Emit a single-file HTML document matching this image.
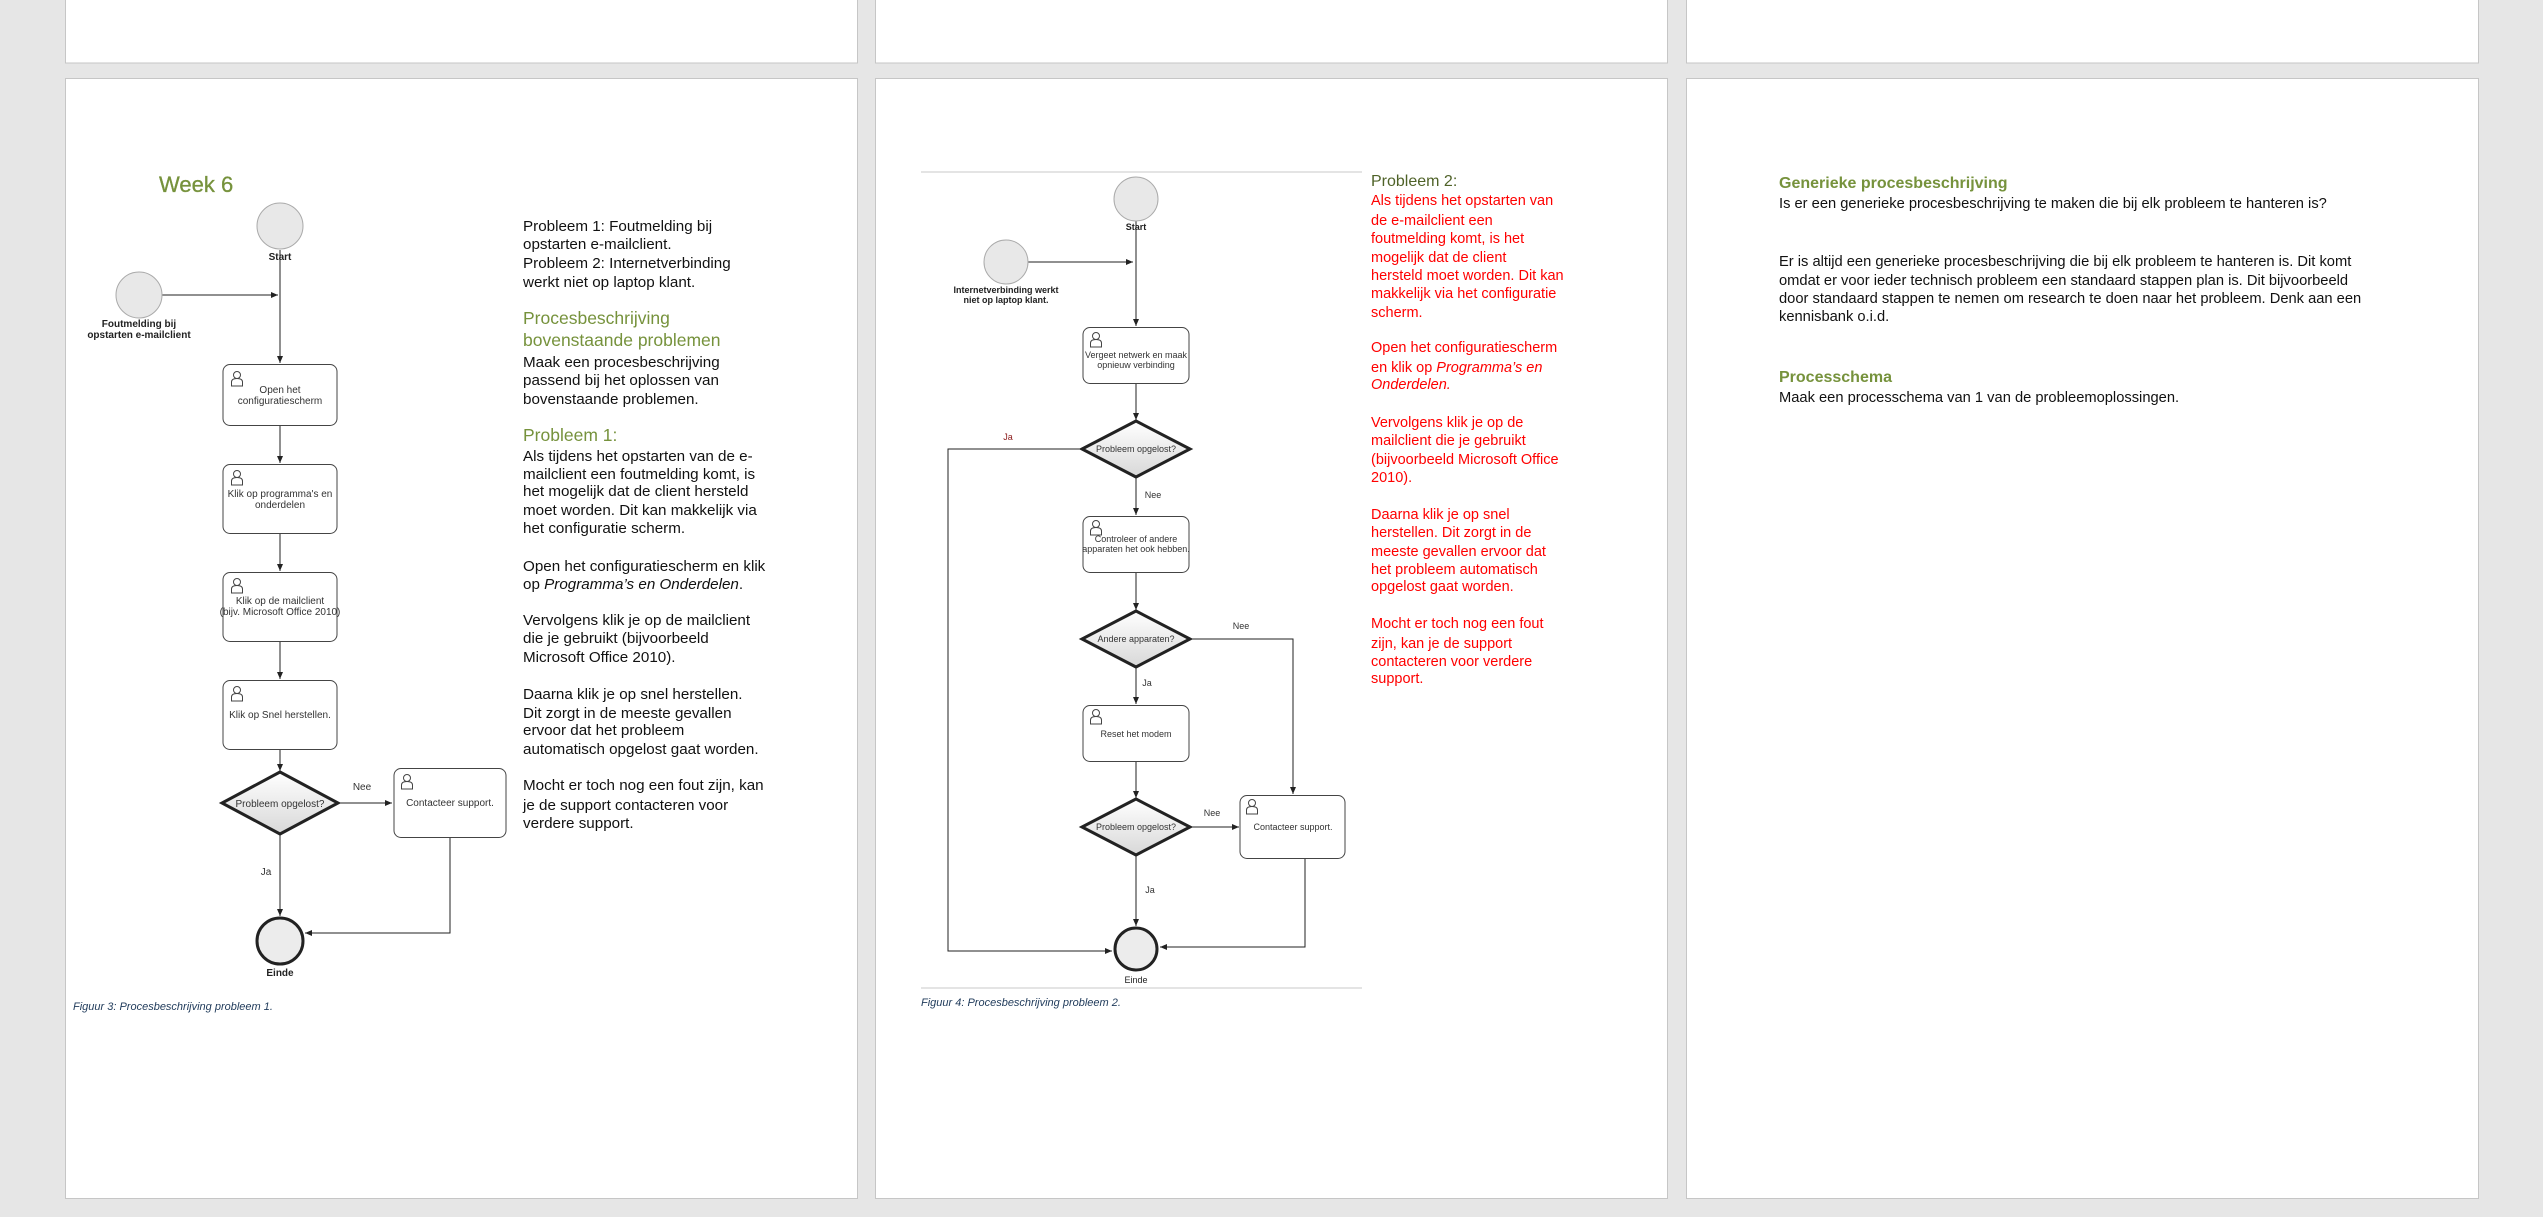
<!DOCTYPE html>
<html><head><meta charset="utf-8"><style>
html,body{margin:0;padding:0;background:#e6e6e6;width:2543px;height:1217px;overflow:hidden}
svg{display:block}
</style></head><body>
<svg width="2543" height="1217" viewBox="0 0 2543 1217" xmlns="http://www.w3.org/2000/svg" font-family="Liberation Sans, sans-serif">
<defs>
<linearGradient id="dg" x1="0" y1="0" x2="0" y2="1"><stop offset="0" stop-color="#ffffff"/><stop offset="1" stop-color="#d8d8d8"/></linearGradient>
<marker id="ar" markerWidth="8" markerHeight="8" refX="7" refY="4" orient="auto" markerUnits="userSpaceOnUse"><path d="M0,1 L7,4 L0,7 z" fill="#222"/></marker>
<g id="person"><circle cx="0" cy="-4" r="3.5" fill="none" stroke="#444" stroke-width="1"/><path d="M-5.5,7 V3 Q-5.5,-0.5 0,-0.5 Q5.5,-0.5 5.5,3 V7 Z" fill="none" stroke="#444" stroke-width="1"/></g>
</defs>
<rect width="2543" height="1217" fill="#e6e6e6"/>
<rect x="65.5" y="-2" width="792" height="65" fill="#fff" stroke="#c6c6c6"/>
<rect x="875.5" y="-2" width="792" height="65" fill="#fff" stroke="#c6c6c6"/>
<rect x="1686.5" y="-2" width="792" height="65" fill="#fff" stroke="#c6c6c6"/>
<rect x="65.5" y="78.5" width="792" height="1120" fill="#fff" stroke="#c6c6c6"/>
<rect x="875.5" y="78.5" width="792" height="1120" fill="#fff" stroke="#c6c6c6"/>
<rect x="1686.5" y="78.5" width="792" height="1120" fill="#fff" stroke="#c6c6c6"/>

<!-- ===== PAGE 1 ===== -->
<text x="159" y="192" font-size="22" fill="#76923c" font-weight="500" stroke="#76923c" stroke-width="0.3">Week 6</text>
<g stroke="#222" stroke-width="1" fill="none">
<line x1="280" y1="250" x2="280" y2="363" marker-end="url(#ar)"/>
<line x1="162" y1="295" x2="278" y2="295" marker-end="url(#ar)"/>
<line x1="280" y1="426" x2="280" y2="463" marker-end="url(#ar)"/>
<line x1="280" y1="534" x2="280" y2="571" marker-end="url(#ar)"/>
<line x1="280" y1="642" x2="280" y2="679" marker-end="url(#ar)"/>
<line x1="280" y1="749" x2="280" y2="771" marker-end="url(#ar)"/>
<line x1="339" y1="803" x2="392" y2="803" marker-end="url(#ar)"/>
<line x1="280" y1="834" x2="280" y2="916" marker-end="url(#ar)"/>
<polyline points="450,837 450,933 305,933" marker-end="url(#ar)"/>
</g>
<circle cx="280" cy="226" r="23" fill="#e8e8e8" stroke="#aaa"/>
<circle cx="139" cy="295" r="23" fill="#e8e8e8" stroke="#aaa"/>
<text x="280" y="260" font-size="10" font-weight="bold" text-anchor="middle" fill="#222">Start</text>
<text x="139" y="327" font-size="10" font-weight="bold" text-anchor="middle" fill="#222">Foutmelding bij</text>
<text x="139" y="338" font-size="10" font-weight="bold" text-anchor="middle" fill="#222">opstarten e-mailclient</text>
<g fill="#fff" stroke="#444" stroke-width="1">
<rect x="223" y="364.5" width="114" height="61" rx="7"/>
<rect x="223" y="464.5" width="114" height="69" rx="7"/>
<rect x="223" y="572.5" width="114" height="69" rx="7"/>
<rect x="223" y="680.5" width="114" height="69" rx="7"/>
<rect x="394" y="768.5" width="112" height="69" rx="7"/>
</g>
<use href="#person" x="237" y="379"/><use href="#person" x="237" y="478"/><use href="#person" x="237" y="586"/><use href="#person" x="237" y="694"/><use href="#person" x="407" y="782"/>
<g font-size="10" fill="#333" text-anchor="middle">
<text x="280" y="393">Open het</text><text x="280" y="404">configuratiescherm</text>
<text x="280" y="497">Klik op programma's en</text><text x="280" y="508">onderdelen</text>
<text x="280" y="604">Klik op de mailclient</text><text x="280" y="615">(bijv. Microsoft Office 2010)</text>
<text x="280" y="718">Klik op Snel herstellen.</text>
<text x="450" y="806">Contacteer support.</text>
<text x="362" y="790">Nee</text>
<text x="266" y="875">Ja</text>
</g>
<polygon points="280,772 338,803 280,834 222,803" fill="url(#dg)" stroke="#222" stroke-width="3"/>
<text x="280" y="807" font-size="10" fill="#333" text-anchor="middle">Probleem opgelost?</text>
<circle cx="280" cy="941" r="23" fill="#ececec" stroke="#222" stroke-width="3"/>
<text x="280" y="976" font-size="10" font-weight="bold" text-anchor="middle" fill="#222">Einde</text>

<g font-size="15.2" fill="#111">
<text x="523" y="231">Probleem 1: Foutmelding bij</text>
<text x="523" y="249">opstarten e-mailclient.</text>
<text x="523" y="268">Probleem 2: Internetverbinding</text>
<text x="523" y="287">werkt niet op laptop klant.</text>
<text x="523" y="367">Maak een procesbeschrijving</text>
<text x="523" y="385">passend bij het oplossen van</text>
<text x="523" y="404">bovenstaande problemen.</text>
<text x="523" y="461">Als tijdens het opstarten van de e-</text>
<text x="523" y="479">mailclient een foutmelding komt, is</text>
<text x="523" y="496">het mogelijk dat de client hersteld</text>
<text x="523" y="515">moet worden. Dit kan makkelijk via</text>
<text x="523" y="533">het configuratie scherm.</text>
<text x="523" y="571">Open het configuratiescherm en klik</text>
<text x="523" y="589">op <tspan font-style="italic">Programma’s en Onderdelen</tspan>.</text>
<text x="523" y="625">Vervolgens klik je op de mailclient</text>
<text x="523" y="643">die je gebruikt (bijvoorbeeld</text>
<text x="523" y="662">Microsoft Office 2010).</text>
<text x="523" y="699">Daarna klik je op snel herstellen.</text>
<text x="523" y="718">Dit zorgt in de meeste gevallen</text>
<text x="523" y="735">ervoor dat het probleem</text>
<text x="523" y="754">automatisch opgelost gaat worden.</text>
<text x="523" y="790">Mocht er toch nog een fout zijn, kan</text>
<text x="523" y="810">je de support contacteren voor</text>
<text x="523" y="828">verdere support.</text>
</g>
<g font-size="17.5" fill="#76923c">
<text x="523" y="324">Procesbeschrijving</text>
<text x="523" y="346">bovenstaande problemen</text>
<text x="523" y="441">Probleem 1:</text>
</g>
<text x="73" y="1010" font-size="11" font-style="italic" fill="#1f3a5a">Figuur 3: Procesbeschrijving probleem 1.</text>

<!-- ===== PAGE 2 ===== -->
<line x1="921" y1="172" x2="1362" y2="172" stroke="#e4e4e4" stroke-width="2"/>
<line x1="921" y1="988" x2="1362" y2="988" stroke="#e4e4e4" stroke-width="2"/>
<g stroke="#222" stroke-width="1" fill="none">
<line x1="1136" y1="221" x2="1136" y2="326" marker-end="url(#ar)"/>
<line x1="1028" y1="262" x2="1133" y2="262" marker-end="url(#ar)"/>
<line x1="1136" y1="384" x2="1136" y2="420" marker-end="url(#ar)"/>
<polyline points="1082,449 948,449 948,951 1112,951" marker-end="url(#ar)"/>
<line x1="1136" y1="477" x2="1136" y2="515" marker-end="url(#ar)"/>
<line x1="1136" y1="572" x2="1136" y2="610" marker-end="url(#ar)"/>
<polyline points="1190,639 1293,639 1293,794" marker-end="url(#ar)"/>
<line x1="1136" y1="667" x2="1136" y2="704" marker-end="url(#ar)"/>
<line x1="1136" y1="762" x2="1136" y2="798" marker-end="url(#ar)"/>
<line x1="1190" y1="827" x2="1239" y2="827" marker-end="url(#ar)"/>
<line x1="1136" y1="856" x2="1136" y2="926" marker-end="url(#ar)"/>
<polyline points="1305,859 1305,947 1160,947" marker-end="url(#ar)"/>
</g>
<circle cx="1136" cy="199" r="22" fill="#e8e8e8" stroke="#aaa"/>
<circle cx="1006" cy="262" r="22" fill="#e8e8e8" stroke="#aaa"/>
<text x="1136" y="230" font-size="9" font-weight="bold" text-anchor="middle" fill="#222">Start</text>
<text x="1006" y="293" font-size="9" font-weight="bold" text-anchor="middle" fill="#222">Internetverbinding werkt</text>
<text x="1006" y="303" font-size="9" font-weight="bold" text-anchor="middle" fill="#222">niet op laptop klant.</text>
<g fill="#fff" stroke="#444" stroke-width="1">
<rect x="1083" y="327.5" width="106" height="56" rx="7"/>
<rect x="1083" y="516.5" width="106" height="56" rx="7"/>
<rect x="1083" y="705.5" width="106" height="56" rx="7"/>
<rect x="1240" y="795.5" width="105" height="63" rx="7"/>
</g>
<use href="#person" x="1096" y="340"/><use href="#person" x="1096" y="528"/><use href="#person" x="1096" y="717"/><use href="#person" x="1252" y="807"/>
<g fill="url(#dg)" stroke="#222" stroke-width="3">
<polygon points="1136,421 1190,449 1136,477 1082,449"/>
<polygon points="1136,611 1190,639 1136,667 1082,639"/>
<polygon points="1136,799 1190,827 1136,855 1082,827"/>
</g>
<g font-size="9" fill="#333" text-anchor="middle">
<text x="1136" y="358">Vergeet netwerk en maak</text><text x="1136" y="368">opnieuw verbinding</text>
<text x="1136" y="452">Probleem opgelost?</text>
<text x="1136" y="542">Controleer of andere</text><text x="1136" y="552">apparaten het ook hebben.</text>
<text x="1136" y="642">Andere apparaten?</text>
<text x="1136" y="737">Reset het modem</text>
<text x="1136" y="830">Probleem opgelost?</text>
<text x="1293" y="830">Contacteer support.</text>
<text x="1008" y="440" fill="#8b1a1a">Ja</text>
<text x="1153" y="498">Nee</text>
<text x="1241" y="629">Nee</text>
<text x="1147" y="686">Ja</text>
<text x="1212" y="816">Nee</text>
<text x="1150" y="893">Ja</text>
</g>
<circle cx="1136" cy="949" r="21" fill="#ececec" stroke="#222" stroke-width="3"/>
<text x="1136" y="983" font-size="9" text-anchor="middle" fill="#222">Einde</text>
<text x="921" y="1006" font-size="11" font-style="italic" fill="#1f3a5a">Figuur 4: Procesbeschrijving probleem 2.</text>

<text x="1371" y="186" font-size="16" fill="#4f6228">Probleem 2:</text>
<g font-size="14.5" fill="#ff0000">
<text x="1371" y="205">Als tijdens het opstarten van</text>
<text x="1371" y="225">de e-mailclient een</text>
<text x="1371" y="243">foutmelding komt, is het</text>
<text x="1371" y="262">mogelijk dat de client</text>
<text x="1371" y="280">hersteld moet worden. Dit kan</text>
<text x="1371" y="298">makkelijk via het configuratie</text>
<text x="1371" y="317">scherm.</text>
<text x="1371" y="352">Open het configuratiescherm</text>
<text x="1371" y="372">en klik op <tspan font-style="italic">Programma’s en</tspan></text>
<text x="1371" y="389" font-style="italic">Onderdelen.</text>
<text x="1371" y="427">Vervolgens klik je op de</text>
<text x="1371" y="445">mailclient die je gebruikt</text>
<text x="1371" y="464">(bijvoorbeeld Microsoft Office</text>
<text x="1371" y="482">2010).</text>
<text x="1371" y="519">Daarna klik je op snel</text>
<text x="1371" y="537">herstellen. Dit zorgt in de</text>
<text x="1371" y="556">meeste gevallen ervoor dat</text>
<text x="1371" y="574">het probleem automatisch</text>
<text x="1371" y="591">opgelost gaat worden.</text>
<text x="1371" y="628">Mocht er toch nog een fout</text>
<text x="1371" y="648">zijn, kan je de support</text>
<text x="1371" y="666">contacteren voor verdere</text>
<text x="1371" y="683">support.</text>
</g>

<!-- ===== PAGE 3 ===== -->
<g font-size="16" fill="#76923c" font-weight="bold">
<text x="1779" y="188">Generieke procesbeschrijving</text>
<text x="1779" y="382">Processchema</text>
</g>
<g font-size="14.7" fill="#111">
<text x="1779" y="208">Is er een generieke procesbeschrijving te maken die bij elk probleem te hanteren is?</text>
<text x="1779" y="266">Er is altijd een generieke procesbeschrijving die bij elk probleem te hanteren is. Dit komt</text>
<text x="1779" y="285">omdat er voor ieder technisch probleem een standaard stappen plan is. Dit bijvoorbeeld</text>
<text x="1779" y="303">door standaard stappen te nemen om research te doen naar het probleem. Denk aan een</text>
<text x="1779" y="321">kennisbank o.i.d.</text>
<text x="1779" y="402">Maak een processchema van 1 van de probleemoplossingen.</text>
</g>
</svg>
</body></html>
